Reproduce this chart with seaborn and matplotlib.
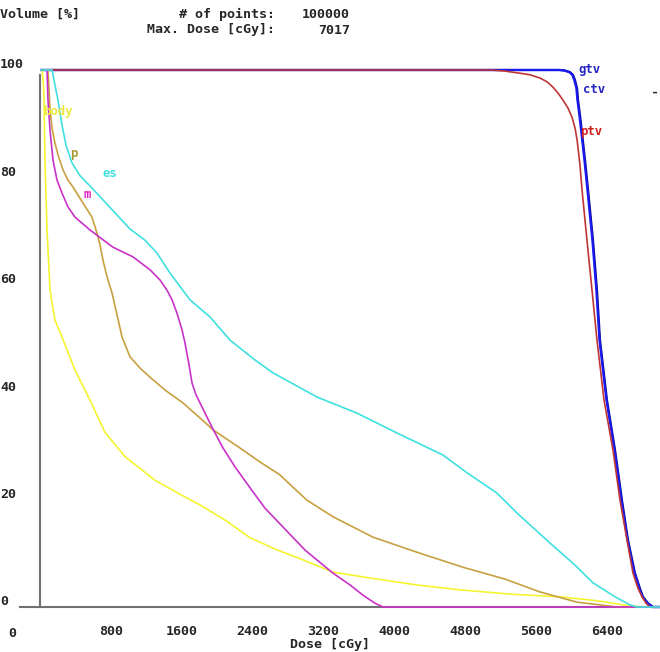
import pandas as pd
import matplotlib.pyplot as plt
import seaborn as sns

# dose-volume curves (dose in cGy, volume in %)
gtv_dose = [0, 5872, 5929, 5985, 6019, 6042, 6065, 6076, 6098, 6121, 6155, 6189, 6245, 6290, 6324, 6403,
            6494, 6572, 6640, 6719, 6776, 6810, 6866, 6923, 7017]
gtv_vol = [100, 100, 99.9, 99.6, 99.1, 98.1, 96.6, 94.4, 91.6, 88.3, 83.2, 77.7, 68.3, 59.0, 49.7, 38.5,
           29.2, 19.9, 12.5, 6.3, 3.4, 1.9, 0.7, 0, 0]

ctv_dose = [0, 5862, 5920, 5977, 6011, 6034, 6057, 6069, 6091, 6114, 6148, 6182, 6238, 6283, 6318, 6397,
            6488, 6566, 6634, 6713, 6770, 6804, 6860, 6917, 7017]
ctv_vol = [100, 100, 99.9, 99.6, 99.1, 98.1, 96.6, 94.4, 91.6, 88.3, 83.2, 77.7, 68.3, 59.0, 49.7, 38.5,
           29.2, 19.9, 12.5, 6.3, 3.4, 1.9, 0.7, 0, 0]

ptv_dose = [0, 5082, 5251, 5421, 5534, 5647, 5726, 5793, 5850, 5906, 5963, 6008, 6042, 6065, 6098, 6121,
            6177, 6234, 6290, 6370, 6471, 6550, 6629, 6697, 6753, 6799, 6844, 6889, 7017]
ptv_vol = [100, 100, 99.8, 99.4, 99.1, 98.5, 97.8, 96.8, 95.7, 94.4, 92.9, 91.2, 89.2, 87.0, 82.3, 77.7,
           68.3, 59.0, 49.7, 38.5, 29.2, 19.9, 12.5, 6.3, 3.5, 1.9, 0.7, 0, 0]

body_dose = [0, 25, 40, 45, 56, 79, 113, 169, 248, 395, 565, 734, 960, 1299, 1581, 1807, 2089, 2372,
             2654, 2936, 3309, 3727, 4257, 4743, 5308, 5872, 6324, 6663, 6832, 7017]
body_vol = [100, 100, 97, 94.4, 83.2, 70.2, 59.0, 53.4, 50.3, 44.1, 38.5, 32.5, 28.0, 23.6, 21.0, 19.0,
            16.2, 12.9, 10.8, 9.0, 6.5, 5.4, 4.1, 3.2, 2.4, 1.9, 1.1, 0.2, 0, 0]

p_dose = [0, 90, 102, 113, 136, 169, 203, 260, 316, 373, 486, 587, 644, 678, 711, 757, 813, 870, 926,
          1016, 1129, 1242, 1412, 1615, 1807, 1954, 2259, 2485, 2710, 2857, 3015, 3309, 3761, 4257, 4777,
          5251, 5647, 6064, 6324, 6516, 7017]
p_vol = [100, 100, 96.3, 92.6, 89.2, 86.4, 84.2, 81.4, 79.5, 78.2, 75.2, 72.6, 69.6, 67.4, 64.6, 61.5,
         58.5, 54.4, 50.3, 46.6, 44.5, 42.8, 40.4, 38.0, 35.2, 33.0, 29.6, 27.0, 24.6, 22.3, 19.9, 16.8,
         13.0, 10.2, 7.4, 5.2, 2.8, 0.9, 0.4, 0, 0]

m_dose = [0, 79, 90, 113, 147, 192, 248, 316, 395, 565, 824, 1050, 1242, 1355, 1434, 1491, 1547, 1604,
          1637, 1683, 1717, 1762, 1807, 1942, 2067, 2202, 2372, 2541, 2744, 2993, 3309, 3501, 3648, 3783,
          3873, 7017]
m_vol = [100, 100, 94.4, 88.8, 83.2, 79.5, 77.1, 74.5, 72.6, 70.2, 67.0, 65.2, 62.8, 60.9, 59.0, 57.2,
         54.7, 51.6, 49.2, 45.1, 41.7, 39.5, 38.0, 33.5, 29.6, 26.1, 22.2, 18.4, 14.9, 10.6, 6.3, 4.1, 2.2,
         0.7, 0, 0]

es_dose = [0, 136, 169, 203, 248, 294, 361, 452, 565, 678, 847, 1016, 1186, 1321, 1468, 1694, 1920,
           2146, 2428, 2631, 3128, 3580, 4032, 4551, 4822, 5161, 5387, 5760, 6042, 6245, 6494, 6663, 6742,
           7017]
es_vol = [100, 100, 97.2, 94.4, 89.8, 86.0, 82.7, 80.3, 78.4, 76.4, 73.4, 70.4, 68.3, 65.9, 62.2, 57.2,
          54.0, 49.7, 46.0, 43.6, 39.1, 36.1, 32.4, 28.3, 25.0, 21.2, 17.5, 11.9, 7.8, 4.5, 1.9, 0.4, 0, 0]

names = ["gtv", "ctv", "ptv", "body", "p", "m", "es"]
colors = {"gtv": "#0a0a90", "ctv": "#1a1af0", "ptv": "#c03535", "body": "#f4f430",
          "p": "#c8a040", "m": "#c832c8", "es": "#40e0e0"}
label_colors = {"gtv": "#2323c0", "ctv": "#2323c0", "ptv": "#d02020", "body": "#e8e840",
                "p": "#a89a30", "m": "#e020c0", "es": "#40dede"}
# label anchor (dose, volume) for each structure name
label_pos = {"gtv": (6076, 100), "ctv": (6132, 96.3), "ptv": (6098, 88.6), "body": (34, 92.2),
             "p": (339, 84.5), "m": (486, 76.9), "es": (711, 80.8)}

x_ticks = [0, 800, 1600, 2400, 3200, 4000, 4800, 5600, 6400]
y_ticks = [0, 20, 40, 60, 80, 100]

curves = {"gtv": (gtv_dose, gtv_vol), "ctv": (ctv_dose, ctv_vol), "ptv": (ptv_dose, ptv_vol),
          "body": (body_dose, body_vol), "p": (p_dose, p_vol), "m": (m_dose, m_vol),
          "es": (es_dose, es_vol)}

sns.set_style("white")
plt.rcParams['font.family'] = ['DejaVu Sans Mono']
plt.rcParams['font.weight'] = 'bold'

fig = plt.figure(figsize=(6.6, 6.52), dpi=100)
W, H = 660, 652
ax = fig.add_axes([40 / W, (H - 609) / H, 620 / W, (609 - 60) / H])

for name in names:
    d, v = curves[name]
    df = pd.DataFrame({"Dose": d, "Volume": v})
    lw = 1.6 if name in ("gtv", "ctv") else 1.2
    sns.lineplot(data=df, x="Dose", y="Volume", sort=False, estimator=None,
                 color=colors[name], linewidth=lw, ax=ax, zorder=3)

ax.set_xlim(0, 620 / 0.08855)
ax.set_ylim((607 - 609) / 5.37, (607 - 60) / 5.37)

for name in names:
    x, y = label_pos[name]
    ax.text(x, y, name, color=label_colors[name], fontsize=8.8, fontweight='bold',
            va='center', ha='left', zorder=4)

# axes styling
for s in ["top", "right"]:
    ax.spines[s].set_visible(False)
ax.spines["left"].set_color("#707070")
ax.spines["left"].set_linewidth(1.5)
ax.spines["left"].set_bounds(0, 99)
ax.spines["bottom"].set_color("#707070")
ax.spines["bottom"].set_linewidth(1.5)
ax.spines["bottom"].set_position(("data", 0))
ax.spines["bottom"].set_bounds(-230, 7002)

ax.set_xticks(x_ticks)
ax.set_xticklabels([""] + [str(t) for t in x_ticks[1:]], fontsize=9.6, fontweight='bold')
ax.tick_params(axis="x", direction="out", length=10, width=1.2, color="#303030", pad=3)
ax.set_yticks(y_ticks)
ax.set_yticklabels([])
ax.tick_params(axis="y", direction="out", length=14.4, width=1.2, color="#303030")
ax.set_xlabel("")
ax.set_ylabel("")

ytf = ax.get_yaxis_transform()
for t in y_ticks:
    ax.text(-40 / 620, t + 0.3, str(t), transform=ytf, fontsize=9.6, fontweight='bold',
            ha='left', va='baseline')
ax.text(-28 / 620, -5.0, "0", transform=ytf, fontsize=9.6, fontweight='bold',
        ha='center', va='center')

fig.text(0, 1 - 14 / H, "Volume [%]", fontsize=9.6, fontweight='bold', va='center', ha='left')
fig.text(275 / W, 1 - 14 / H, "# of points:", fontsize=9.6, fontweight='bold', va='center', ha='right')
fig.text(350 / W, 1 - 14 / H, "100000", fontsize=9.6, fontweight='bold', va='center', ha='right')
fig.text(275 / W, 1 - 30 / H, "Max. Dose [cGy]:", fontsize=9.6, fontweight='bold', va='center', ha='right')
fig.text(350 / W, 1 - 30 / H, "7017", fontsize=9.6, fontweight='bold', va='center', ha='right')
fig.text(330 / W, 1 / H, "Dose [cGy]", fontsize=9.6, fontweight='bold', va='bottom', ha='center')
fig.text(659 / W, 1 - 92 / H, "-", fontsize=9.6, fontweight='bold', va='center', ha='right')

fig.savefig("out.png", dpi=100)
